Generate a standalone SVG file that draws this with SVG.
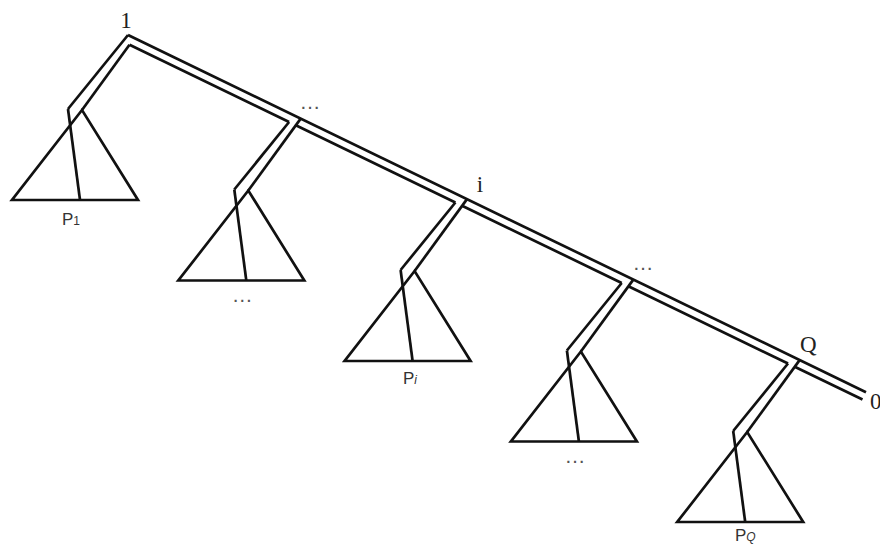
<svg xmlns="http://www.w3.org/2000/svg" width="880" height="548" viewBox="0 0 880 548">
<style>
.ln{fill:none;stroke:#111;stroke-width:2.7;stroke-linecap:butt;stroke-linejoin:miter}
.num{font-family:"Liberation Serif","Times New Roman",serif;font-size:23px;fill:#222}
.dots{font-family:"Liberation Sans",Arial,sans-serif;font-size:21px;fill:#555}
.lab{font-family:"Liberation Sans",Arial,sans-serif;font-size:17px;fill:#333}
.sub{font-size:12px}
</style>
<rect width="880" height="548" fill="#fff"/>
<g id="connectors">
  <line class="ln" x1="128" y1="35" x2="866" y2="392.2"/>
  <line class="ln" x1="129.5" y1="44.7" x2="289.1" y2="122"/>
  <line class="ln" x1="295.8" y1="125.2" x2="455.4" y2="202.5"/>
  <line class="ln" x1="462.1" y1="205.7" x2="621.7" y2="283"/>
  <line class="ln" x1="628.4" y1="286.2" x2="788" y2="363.5"/>
  <line class="ln" x1="794.7" y1="366.7" x2="862.5" y2="399.5"/>
  <line class="ln" x1="128" y1="35" x2="68" y2="109"/>
  <line class="ln" x1="129.5" y1="44.7" x2="82" y2="110"/>
  <line class="ln" x1="289.1" y1="122" x2="234.3" y2="189.5"/>
  <line class="ln" x1="300.7" y1="118.6" x2="248.3" y2="190.5"/>
  <line class="ln" x1="455.4" y1="202.5" x2="400.6" y2="270"/>
  <line class="ln" x1="467" y1="199.1" x2="414.6" y2="271"/>
  <line class="ln" x1="621.7" y1="283" x2="566.9" y2="350.5"/>
  <line class="ln" x1="633.3" y1="279.6" x2="580.9" y2="351.5"/>
  <line class="ln" x1="788" y1="363.5" x2="733.2" y2="431"/>
  <line class="ln" x1="799.6" y1="360.1" x2="747.2" y2="432"/>
</g>
<g id="labels">
  <text class="num" x="126" y="28" text-anchor="middle">1</text>
  <text class="dots" x="299.5" y="108.5">…</text>
  <text class="num" x="480" y="192" text-anchor="middle">i</text>
  <text class="dots" x="632.5" y="269.5">…</text>
  <text class="num" x="800" y="352">Q</text>
  <text class="num" x="870" y="409">0</text>
</g>
<g id="node1" transform="translate(128,35)">
  <polygon class="ln" points="-46,75 -116,165 10,165"/>
  <line class="ln" x1="-60" y1="74" x2="-48" y2="165"/>
  <text class="lab" x="-66" y="190">P<tspan class="sub">1</tspan></text>
</g>
<g id="node2" transform="translate(294.3,115.5)">
  <polygon class="ln" points="-46,75 -116,165 10,165"/>
  <line class="ln" x1="-60" y1="74" x2="-48" y2="165"/>
  <text class="dots" x="-52" y="186.5" text-anchor="middle">…</text>
</g>
<g id="node3" transform="translate(460.6,196)">
  <polygon class="ln" points="-46,75 -116,165 10,165"/>
  <line class="ln" x1="-60" y1="74" x2="-48" y2="165"/>
  <text class="lab" x="-57.6" y="188">P<tspan class="sub" font-style="italic">i</tspan></text>
</g>
<g id="node4" transform="translate(626.9,276.5)">
  <polygon class="ln" points="-46,75 -116,165 10,165"/>
  <line class="ln" x1="-60" y1="74" x2="-48" y2="165"/>
  <text class="dots" x="-52" y="186.5" text-anchor="middle">…</text>
</g>
<g id="node5" transform="translate(793.2,357)">
  <polygon class="ln" points="-46,75 -116,165 10,165"/>
  <line class="ln" x1="-60" y1="74" x2="-48" y2="165"/>
  <text class="lab" x="-58.2" y="184">P<tspan class="sub" font-style="italic">Q</tspan></text>
</g>
</svg>
